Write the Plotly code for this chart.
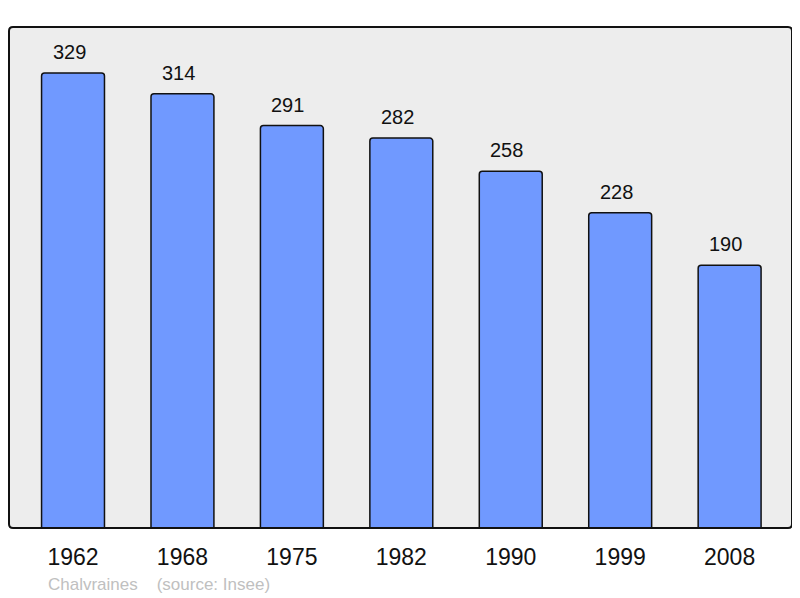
import plotly.graph_objects as go

years = ["1962", "1968", "1975", "1982", "1990", "1999", "2008"]
population = [329, 314, 291, 282, 258, 228, 190]
source_text = "Chalvraines    (source: Insee)"

FONT = "Liberation Sans, Arial, sans-serif"

fig = go.Figure()
fig.add_trace(go.Bar(
    x=list(range(len(years))), y=population,
    width=0.575,
    marker=dict(color="#7099ff", line=dict(color="#111111", width=1.5), cornerradius=3),
    hoverinfo="skip",
))

for i, v in enumerate(population):
    fig.add_annotation(x=i, y=v, text=str(v), showarrow=False, xref="x", yref="y",
                       yanchor="bottom", yshift=8, xshift=-4,
                       font=dict(size=20, color="#111111", family=FONT))

fig.add_annotation(x=(46 - 9) / 783, y=(528 - 584) / 501, xref="paper", yref="paper",
                   xanchor="left", yanchor="middle", text=source_text, showarrow=False,
                   font=dict(size=17, color="#c0c0c0", family=FONT))

# rounded border of the plot area
rx, ry = 4 / 783, 4 / 501
path = (f"M {rx},0 L {1-rx},0 Q 1,0 1,{ry} L 1,{1-ry} Q 1,1 {1-rx},1 "
        f"L {rx},1 Q 0,1 0,{1-ry} L 0,{ry} Q 0,0 {rx},0 Z")
fig.add_shape(type="path", xref="paper", yref="paper", path=path,
              line=dict(color="#111111", width=2), layer="above")

fig.update_layout(
    width=792, height=590,
    margin=dict(l=1, r=8, t=19, b=70),
    paper_bgcolor="white", plot_bgcolor="#ededed",
    showlegend=False,
    font=dict(family=FONT),
    xaxis=dict(range=[-0.585, 6.57], tickmode="array", tickvals=list(range(len(years))),
               ticktext=years, showgrid=False, zeroline=False, showline=False,
               ticks="outside", ticklen=8, tickcolor="rgba(0,0,0,0)",
               tickfont=dict(size=23, color="#111111"), fixedrange=True),
    yaxis=dict(range=[0, 362.3], showgrid=False, zeroline=False, showticklabels=False,
               showline=False, fixedrange=True),
)

fig.write_html("out.html")
